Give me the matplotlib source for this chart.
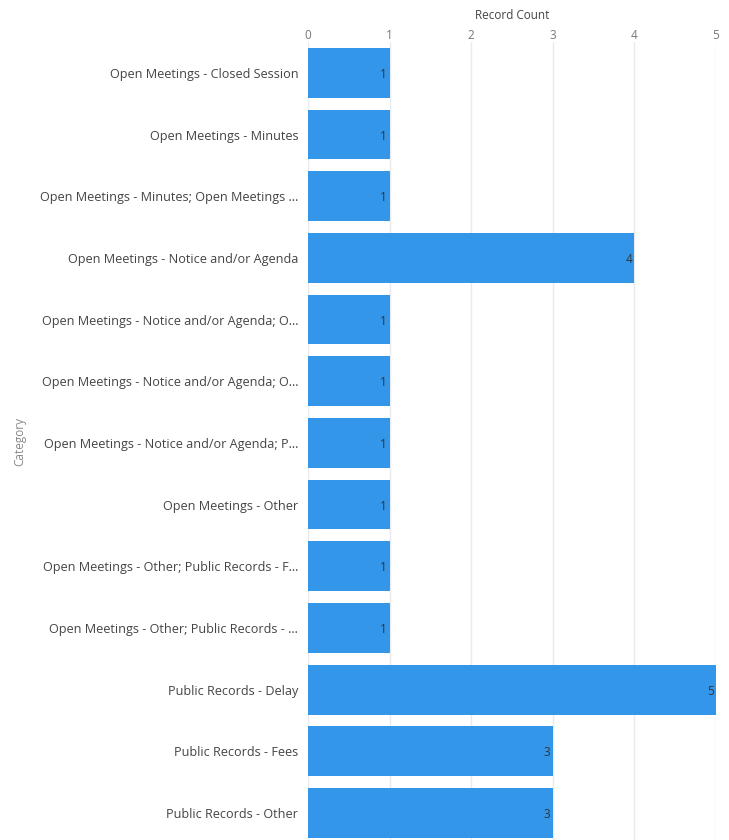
import matplotlib.pyplot as plt

categories = [
    "Open Meetings - Closed Session",
    "Open Meetings - Minutes",
    "Open Meetings - Minutes; Open Meetings ...",
    "Open Meetings - Notice and/or Agenda",
    "Open Meetings - Notice and/or Agenda; O...",
    "Open Meetings - Notice and/or Agenda; O...",
    "Open Meetings - Notice and/or Agenda; P...",
    "Open Meetings - Other",
    "Open Meetings - Other; Public Records - F...",
    "Open Meetings - Other; Public Records - ...",
    "Public Records - Delay",
    "Public Records - Fees",
    "Public Records - Other",
]
counts = [1, 1, 1, 4, 1, 1, 1, 1, 1, 1, 5, 3, 3]
x_ticks = [0, 1, 2, 3, 4, 5]

plt.rcParams['font.family'] = ['Open Sans', 'DejaVu Sans']

fig = plt.figure(figsize=(7.29, 8.4), dpi=100)
ax = fig.add_axes([308 / 729, 0, (716 - 308) / 729, 798 / 840])

y = list(range(len(categories)))
ax.barh(y, counts, height=0.81, color='#3396E8', zorder=2)
for yi, c in zip(y, counts):
    ax.text(c - 0.03, yi, str(c), ha='right', va='center_baseline',
            fontsize=8.5, color='#333333', zorder=3)

ax.set_xlim(0, 5)
ax.set_ylim(12.44, -0.5)
ax.set_yticks(y)
ax.set_yticklabels(categories, fontsize=9.1, color='#444444')
ax.set_xticks(x_ticks)
ax.set_xticklabels([str(t) for t in x_ticks], fontsize=8.5, color='#777777')
ax.xaxis.tick_top()
ax.xaxis.set_label_position('top')
ax.set_xlabel('Record Count', fontsize=8.5, color='#444444', labelpad=7)
ax.set_ylabel('Category', fontsize=8.5, color='#888888')
ax.yaxis.set_label_coords(-0.69, 0.5)
ax.tick_params(axis='y', length=0, pad=7)
ax.tick_params(axis='x', length=0, pad=0)
ax.grid(axis='x', color='#e8eaf0', linewidth=1, zorder=0)
for s in ax.spines.values():
    s.set_visible(False)

fig.savefig('out.png', dpi=100)
